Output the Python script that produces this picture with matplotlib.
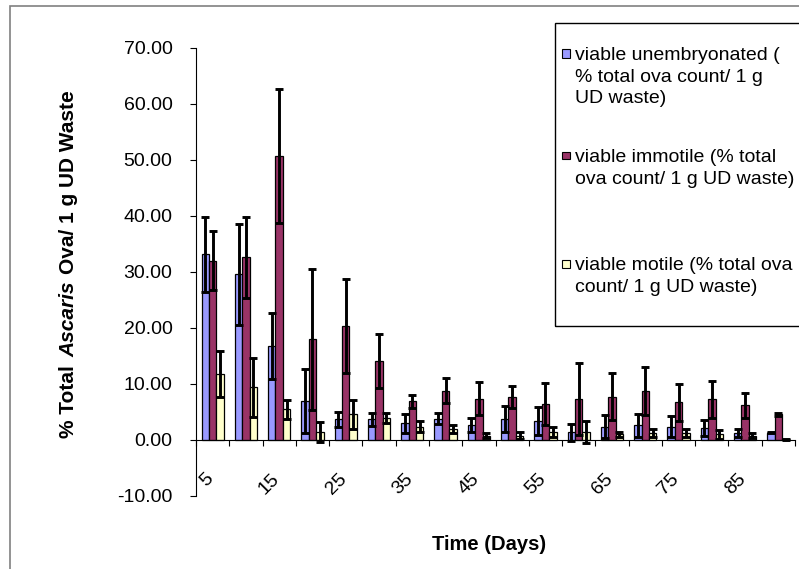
import matplotlib
matplotlib.use("Agg")
import matplotlib.pyplot as plt
import numpy as np
from matplotlib.patches import Rectangle

plt.rcParams['font.family'] = ['Liberation Sans', 'DejaVu Sans']

days = [5, 10, 15, 20, 25, 30, 35, 40, 45, 50, 55, 60, 65, 70, 75, 80, 85, 90]
unemb = [33.2, 29.6, 16.8, 7.0, 3.7, 3.7, 3.0, 3.8, 2.7, 3.8, 3.4, 1.4, 2.4, 2.6, 2.4, 2.1, 1.2, 1.3]
unemb_sd = [6.7, 9.0, 5.9, 5.7, 1.3, 1.2, 1.7, 1.0, 1.3, 2.3, 2.5, 1.5, 2.0, 2.0, 1.9, 1.4, 0.7, 0.1]
immot = [32.0, 32.6, 50.7, 18.0, 20.4, 14.1, 6.9, 8.8, 7.4, 7.7, 6.4, 7.3, 7.7, 8.8, 6.7, 7.3, 6.2, 4.6]
immot_sd = [5.3, 7.2, 11.9, 12.6, 8.4, 4.9, 1.2, 2.2, 2.9, 2.0, 3.8, 6.4, 4.2, 4.3, 3.3, 3.3, 2.2, 0.3]
motile = [11.8, 9.4, 5.5, 1.4, 4.6, 3.9, 2.4, 1.9, 0.8, 0.8, 1.4, 1.4, 1.0, 1.3, 1.3, 1.0, 0.8, 0.1]
motile_sd = [4.1, 5.3, 1.7, 1.8, 2.6, 0.9, 1.0, 0.7, 0.5, 0.6, 0.9, 2.0, 0.5, 0.7, 0.7, 0.8, 0.5, 0.1]

series_labels = [
    ["viable unembryonated (", "% total ova count/ 1 g", "UD waste)"],
    ["viable immotile (% total", "ova count/ 1 g UD waste)"],
    ["viable motile (% total ova", "count/ 1 g UD waste)"],
]
colors = ["#9999FF", "#993366", "#FFFFCC"]
yticks = [-10, 0, 10, 20, 30, 40, 50, 60, 70]

W, H = 799, 569
fig = plt.figure(figsize=(W / 100, H / 100), dpi=100)

def fx(px):
    return px / W

def fy(py):
    return 1 - py / H

# outer chart border
fig.patches.append(Rectangle((fx(9.5), fy(900)), fx(900), fy(5.5) - fy(900),
                             transform=fig.transFigure, fill=False,
                             edgecolor="#808080", linewidth=1.2))

ax = fig.add_axes([fx(196), fy(496), fx(795) - fx(196), fy(48) - fy(496)])
ax.patch.set_alpha(0)

x = np.arange(len(days))
bw = 1 / 4.5
data = [(unemb, unemb_sd), (immot, immot_sd), (motile, motile_sd)]
for i, (vals, sd) in enumerate(data):
    xi = x + (i - 1) * bw
    ax.bar(xi, vals, width=bw, color=colors[i], edgecolor="black", linewidth=0.9, zorder=2)
    ax.errorbar(xi, vals, yerr=sd, fmt="none", ecolor="black", elinewidth=2.1,
                capsize=3.0, capthick=2.1, zorder=3)

ax.set_xlim(-0.5, len(days) - 0.5)
ax.set_ylim(-10, 70)
ax.set_yticks(yticks)
ax.set_yticklabels([f"{v:.2f}" for v in yticks])
ax.tick_params(axis="y", direction="out", length=4, width=0.8, labelsize=14, pad=13)

for s in ["top", "right"]:
    ax.spines[s].set_visible(False)
ax.spines["bottom"].set_position(("data", 0))
ax.spines["left"].set_linewidth(0.8)
ax.spines["bottom"].set_linewidth(0.8)

ax.set_xticks(np.arange(len(days) + 1) - 0.5)
ax.set_xticklabels([])
lab_idx = [i for i in range(len(days)) if i % 2 == 0]
ax.set_xticks([i + 0.12 for i in lab_idx], minor=True)
ax.set_xticklabels([str(days[i]) for i in lab_idx], minor=True)
ax.tick_params(axis="x", which="major", direction="out", length=4, width=0.8)
ax.tick_params(axis="x", which="minor", length=0, labelsize=14, pad=22)
for lbl in ax.get_xticklabels(minor=True):
    lbl.set_rotation(45)
    lbl.set_ha("right")
    lbl.set_va("top")

# axis titles
fig.text(fx(489), fy(545), "Time (Days)", fontsize=14.5, fontweight="bold",
         ha="center", va="center")

pieces = [("% Total", "normal"), ("Ascaris", "italic"), ("Ova/ 1 g UD Waste", "normal")]
fig.canvas.draw()
r = fig.canvas.get_renderer()
texts = []
lengths = []
ylab_size = 15
for s, st in pieces:
    t = fig.text(0, 0, s, fontsize=ylab_size, fontweight="bold", style=st, rotation=90,
                 ha="center", va="bottom")
    texts.append(t)
    lengths.append(t.get_window_extent(r).height)
gap = 0.278 * ylab_size * 100 / 72 * 1.4
total = sum(lengths) + gap * (len(pieces) - 1)
ystart = (H - 264) - total / 2
cur = ystart
for t, L in zip(texts, lengths):
    t.set_position((fx(69), cur / H))
    cur += L + gap

# legend
fig.patches.append(Rectangle((fx(555), fy(326)), fx(900), fy(22.5) - fy(326),
                             transform=fig.transFigure, fill=False,
                             edgecolor="black", linewidth=1.0))
first_lines = [56, 158, 266]
for i, lines in enumerate(series_labels):
    y0 = first_lines[i]
    fig.patches.append(Rectangle((fx(562), fy(y0 + 1.5)), fx(8), fy(y0 - 6.5) - fy(y0 + 1.5),
                                 transform=fig.transFigure, facecolor=colors[i],
                                 edgecolor="black", linewidth=0.8))
    for j, line in enumerate(lines):
        fig.text(fx(575), fy(y0 + 21.3 * j), line, fontsize=14, ha="left", va="center")

fig.savefig("out.png", dpi=100)
